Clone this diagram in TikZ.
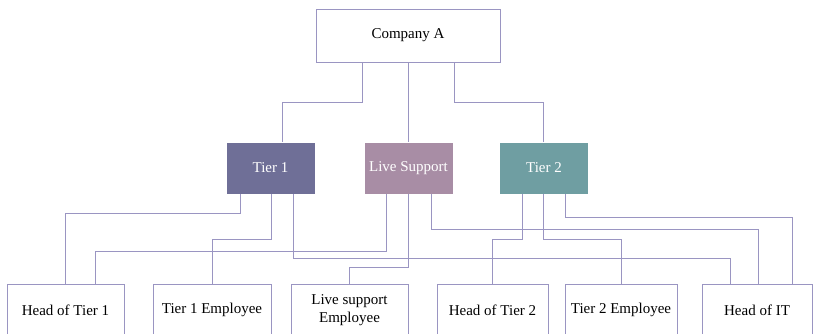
\documentclass[tikz,border=0pt]{standalone}
\usepackage{fontspec}
\setmainfont{Liberation Serif}
\usepackage{tikz}
\usetikzlibrary{positioning}
\definecolor{linkcol}{HTML}{9A95C2}
\definecolor{tierone}{HTML}{6F6F97}
\definecolor{livesup}{HTML}{A88DA5}
\definecolor{tiertwo}{HTML}{6F9EA2}

\begin{document}
\begin{tikzpicture}[x=1pt,y=-1pt,
        box/.style={draw=linkcol, line width=0.9pt, fill=white, minimum height=52pt,
                    inner sep=0pt, align=center, font=\fontsize{15}{18}\selectfont},
        tier/.style={box, draw=white, text=white, minimum width=89pt},
        link/.style={draw=linkcol, line width=0.9pt}]

        \useasboundingbox (0,0) rectangle (813,333);
        \clip (0,0) rectangle (813,333);

        \node[box, minimum width=184pt, minimum height=53pt] (comp) at (408,35.5) {Company A};

        \node[tier, fill=tierone] (t_1)  at (270.5,168) {Tier 1};
        \node[tier, fill=livesup] (t_ls) at (408.5,168) {Live Support};
        \node[tier, fill=tiertwo] (t_2)  at (544,168)   {Tier 2};

        \node[box, minimum width=117pt] (e_h1) at (65.5,310)  {Head of Tier 1};
        \node[box, minimum width=118pt] (e_t1) at (212,310)   {Tier 1 Employee};
        \node[box, minimum width=117pt] (e_ls) at (349.5,310) {Live support\\Employee};
        \node[box, minimum width=111pt] (e_h2) at (492.5,310) {Head of Tier 2};
        \node[box, minimum width=112pt] (e_t2) at (621,310)   {Tier 2 Employee};
        \node[box, minimum width=110pt] (e_it) at (757,310)   {Head of IT};

        % company to tiers
        \draw[link] ([xshift=-46pt]comp.south) -- ++(0,40) -| ([xshift=11.5pt]t_1.north);
        \draw[link] (comp.south) -- (comp.south |- t_ls.north);
        \draw[link] ([xshift=46pt]comp.south) -- ++(0,40) -| ([xshift=-1pt]t_2.north);

        % tier 1
        \draw[link] ([xshift=-30.5pt]t_1.south) -- ++(0,19) -| (e_h1.north);
        \draw[link] ([xshift=0.5pt]t_1.south) -- ++(0,45) -| (e_t1.north);
        \draw[link] ([xshift=22.5pt]t_1.south) -- ++(0,64) -| ([xshift=-27pt]e_it.north);

        % live support
        \draw[link] ([xshift=-22.5pt]t_ls.south) -- ++(0,57) -| ([xshift=29.5pt]e_h1.north);
        \draw[link] ([xshift=-0.5pt]t_ls.south) -- ++(0,73) -| (e_ls.north);
        \draw[link] ([xshift=22.5pt]t_ls.south) -- ++(0,35) -| ([xshift=1pt]e_it.north);

        % tier 2
        \draw[link] ([xshift=-22pt]t_2.south) -- ++(0,45) -| (e_h2.north);
        \draw[link] ([xshift=-1pt]t_2.south) -- ++(0,45) -| (e_t2.north);
        \draw[link] ([xshift=21pt]t_2.south) -- ++(0,23) -| ([xshift=35pt]e_it.north);

      \end{tikzpicture}
\end{document}
